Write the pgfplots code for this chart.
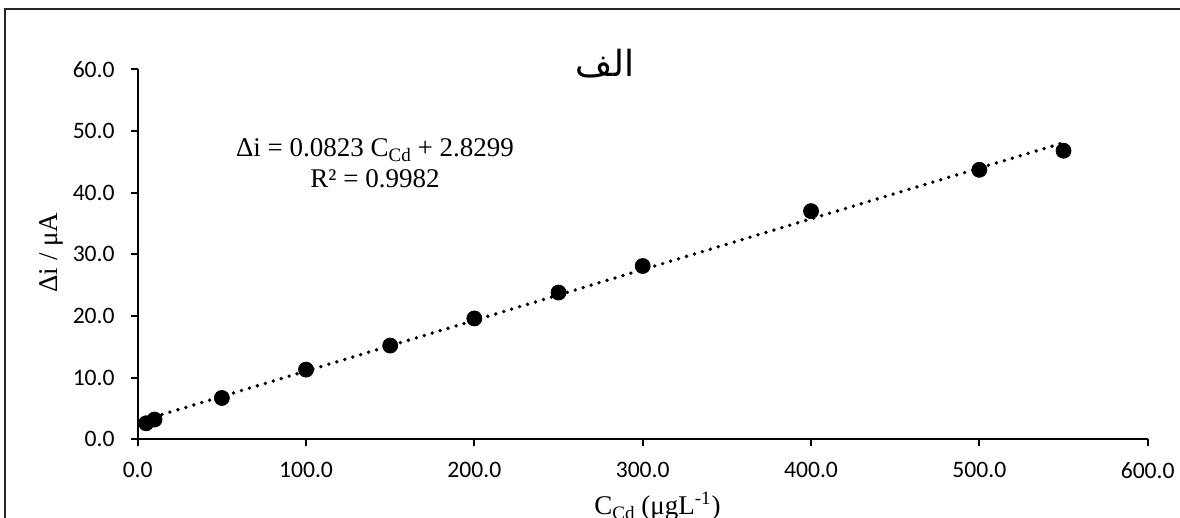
\documentclass[border=0pt]{standalone}
\usepackage{fontspec}
\setmainfont{Liberation Serif}
\newfontfamily\tickfont{Carlito}
\newfontfamily\arabicfont[Script=Arabic]{DejaVu Sans}
\TeXXeTstate=1
\usepackage{pgfplots}
\pgfplotsset{compat=1.18}
\pgfplotstableread{
x y
5 2.6
10 3.2
50 6.7
100 11.3
150 15.2
200 19.6
250 23.8
300 28.1
400 37.0
500 43.7
550 46.8
}\datatable
\begin{document}
\begin{tikzpicture}
\clip (-68.85pt,-39.35pt) rectangle (521.15pt,219.65pt);
\draw[line width=1pt, black!85] (-66.35pt,-80pt) rectangle (560pt,215.15pt);
\begin{axis}[
  scale only axis, width=505pt, height=185pt,
  xmin=0, xmax=600, ymin=0, ymax=60,
  axis x line*=bottom, axis y line*=left,
  axis line style={line width=0.9pt, -},
  xtick={0,100,...,600}, ytick={0,10,...,60},
  tick align=outside, major tick length=3.5pt,
  tick style={line width=0.9pt, black},
  ticklabel style={font=\tickfont\fontsize{11.8}{13}\selectfont, inner sep=0pt},
  xticklabel style={yshift=-7.85pt},
  yticklabel style={xshift=-7.85pt},
  /pgf/number format/.cd, fixed, fixed zerofill, precision=1, assume math mode=true,
]
\addplot[black, line width=1.9pt, line cap=round, dash pattern=on 0pt off 4.15pt] coordinates {(5,3.2414) (550,48.0949)};
\addplot[only marks, mark=*, mark size=3.75pt, black] table[x=x, y=y] {\datatable};
\end{axis}
\node[anchor=base, font=\fontsize{13.5}{15}\selectfont] at (118.65pt,141.3pt) {Δi = 0.0823 C\raisebox{-2.2pt}{\fontsize{9.5}{10}\selectfont Cd} + 2.8299};
\node[anchor=base, font=\fontsize{13.5}{15}\selectfont] at (118.65pt,125.65pt) {R² = 0.9982};
\node[anchor=base, font=\arabicfont\fontsize{18}{20}\selectfont] at (233.7pt,181.6pt) {\beginR الف\endR};
\node[rotate=90, anchor=base, font=\fontsize{13.5}{15}\selectfont] at (-39.85pt,93.4pt) {Δi / μA};
\node[anchor=base, font=\fontsize{13.5}{15}\selectfont] at (259.9pt,-37.85pt) {C\raisebox{-2.2pt}{\fontsize{9.5}{10}\selectfont Cd} (μgL\textsuperscript{-1})};
\end{tikzpicture}
\end{document}
